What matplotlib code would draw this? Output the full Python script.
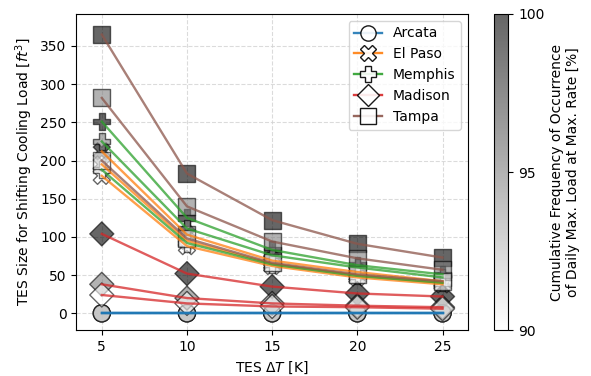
import matplotlib
matplotlib.use("Agg")
import matplotlib.pyplot as plt
from matplotlib.lines import Line2D

# TES temperature difference [K]
delta_t = [5, 10, 15, 20, 25]
# cumulative frequency levels [%]
freq_levels = [100, 95, 90]

cities = ["Arcata", "El Paso", "Memphis", "Madison", "Tampa"]
markers = ["o", "X", "P", "D", "s"]
colors = ["C0", "C1", "C2", "C3", "C5"]

arcata = [
    [0, 0, 0, 0, 0],
    [0, 0, 0, 0, 0],
    [0, 0, 0, 0, 0],
]
el_paso = [
    [212, 103, 69, 54, 42],
    [195, 95, 65, 50, 40],
    [180, 88, 62, 47, 38],
]
memphis = [
    [251, 125, 83, 63, 51],
    [225, 111, 76, 60, 47],
    [188, 92, 64, 49, 40],
]
madison = [
    [104, 52, 35, 26, 22],
    [38, 20, 13, 10, 8],
    [24, 13, 9, 8, 6],
]
tampa = [
    [365, 183, 122, 91, 73],
    [282, 140, 94, 72, 57],
    [200, 98, 66, 51, 42],
]
sizes = [arcata, el_paso, memphis, madison, tampa]

fig = plt.figure(figsize=(5.91, 3.76), dpi=100)
ax = fig.add_axes([0.129, 0.122, 0.663, 0.841])
cax = fig.add_axes([0.836, 0.122, 0.024, 0.841])

sc = None
for city, mk, col, rows in zip(cities, markers, colors, sizes):
    for level, vals in zip(freq_levels, rows):
        sc = ax.scatter(delta_t, vals, c=[level] * len(delta_t), cmap="gray_r",
                        vmin=90, vmax=100, marker=mk, s=150, alpha=0.6,
                        edgecolors="k", linewidths=1, zorder=2)
        ax.plot(delta_t, vals, color=col, alpha=0.75, lw=1.7, zorder=3)

handles = [
    Line2D([], [], color=col, alpha=0.9, lw=1.7, marker=mk, markersize=11,
           markerfacecolor=(1, 1, 1, 0.8), markeredgecolor="k", markeredgewidth=1)
    for mk, col in zip(markers, colors)
]
ax.legend(handles, cities, loc="upper right", fontsize=10)

ax.set_xlim(3.5, 26.5)
ax.set_ylim(-22, 392)
ax.set_xticks(delta_t)
ax.set_xlabel(r"TES $\Delta T$ [K]")
ax.set_ylabel(r"TES Size for Shifting Cooling Load [$ft^3$]")
ax.grid(True, linestyle="--", color="lightgray", alpha=0.8)
ax.set_axisbelow(True)

cb = fig.colorbar(sc, cax=cax, ticks=[90, 95, 100])
cb.set_label("Cumulative Frequency of Occurrence\nof Daily Max. Load at Max. Rate [%]")

fig.savefig("out.png", dpi=100)
